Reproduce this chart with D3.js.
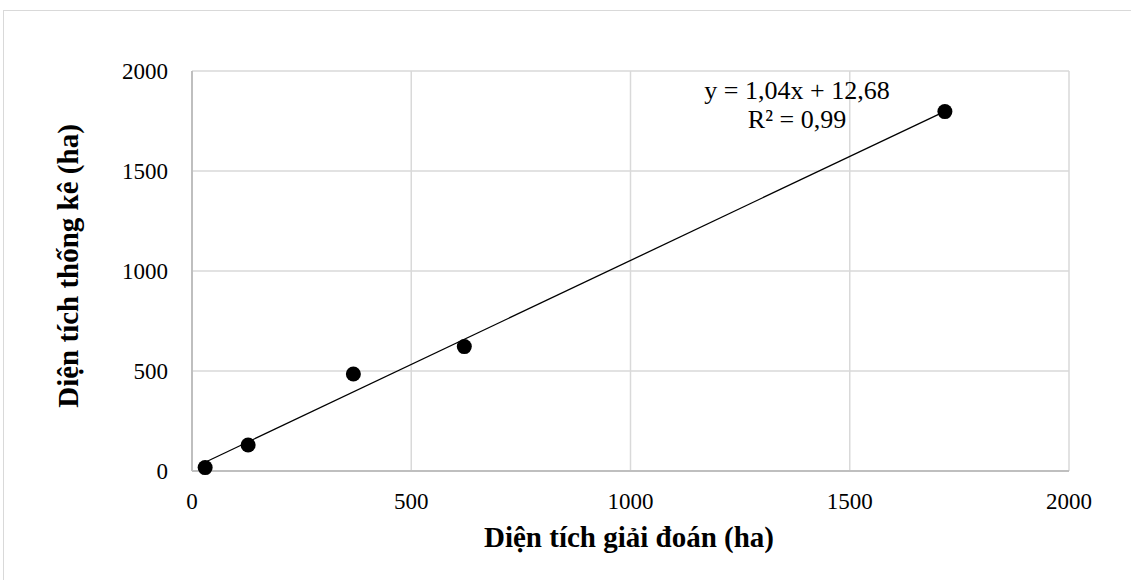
<!DOCTYPE html>
<html><head><meta charset="utf-8">
<script src="https://cdn.jsdelivr.net/npm/d3@7"></script>
<style>body{margin:0;background:#fff}svg{display:block}</style>
</head><body>
<svg id="c" width="1131" height="580"></svg>
<script>
const xValues = [30, 128, 368, 621, 1717];
const yValues = [17, 130, 485, 622, 1797];
const xTicks = [0, 500, 1000, 1500, 2000];
const yTicks = [0, 500, 1000, 1500, 2000];
const slope = 1.04, intercept = 12.68;
const eqLabel = "y = 1,04x + 12,68";
const r2Label = "R² = 0,99";
const xTitle = "Diện tích giải đoán (ha)";
const yTitle = "Diện tích thống kê (ha)";

const svg = d3.select("#c");
const font = "'Liberation Serif','Times New Roman',serif";
svg.append("rect").attr("x",3.5).attr("y",10.5).attr("width",1140).attr("height",600)
  .attr("fill","none").attr("stroke","#d9d9d9").attr("stroke-width",1);

const L=192, R=1069, T=71, B=471;
const x = d3.scaleLinear().domain([0,2000]).range([L,R]);
const y = d3.scaleLinear().domain([0,2000]).range([B,T]);

const g = svg.append("g");
g.selectAll(".vg").data(xTicks).join("line").attr("x1",d=>x(d)).attr("x2",d=>x(d))
  .attr("y1",T).attr("y2",B).attr("stroke","#d9d9d9").attr("stroke-width",1.5);
g.selectAll(".hg").data(yTicks).join("line").attr("y1",d=>y(d)).attr("y2",d=>y(d))
  .attr("x1",L).attr("x2",R).attr("stroke","#d9d9d9").attr("stroke-width",1.5);
g.append("line").attr("x1",L).attr("x2",R).attr("y1",B).attr("y2",B).attr("stroke","#bfbfbf").attr("stroke-width",2);
g.append("line").attr("x1",L).attr("x2",L).attr("y1",T).attr("y2",B).attr("stroke","#bfbfbf").attr("stroke-width",2);

g.selectAll(".xt").data(xTicks).join("text").attr("x",d=>x(d)).attr("y",B+38)
  .attr("text-anchor","middle").attr("font-family",font).attr("font-size",23).text(d=>d);
g.selectAll(".yt").data(yTicks).join("text").attr("x",168).attr("y",d=>y(d)+8)
  .attr("text-anchor","end").attr("font-family",font).attr("font-size",23).text(d=>d);

const x0 = d3.min(xValues), x1 = d3.max(xValues);
g.append("line").attr("x1",x(x0)).attr("y1",y(slope*x0+intercept))
  .attr("x2",x(x1)).attr("y2",y(slope*x1+intercept)).attr("stroke","#000").attr("stroke-width",1.3);

g.selectAll(".pt").data(xValues.map((v,i)=>[v,yValues[i]])).join("circle")
  .attr("cx",d=>x(d[0])).attr("cy",d=>y(d[1])).attr("r",7.5).attr("fill","#000");

g.append("text").attr("x",797).attr("y",99).attr("text-anchor","middle").attr("font-family",font).attr("font-size",26).text(eqLabel);
g.append("text").attr("x",797).attr("y",128).attr("text-anchor","middle").attr("font-family",font).attr("font-size",26).text(r2Label);

svg.append("text").attr("x",629).attr("y",547).attr("text-anchor","middle").attr("font-family",font)
  .attr("font-size",29).attr("font-weight","bold").text(xTitle);
svg.append("text").attr("transform","translate(78,266) rotate(-90)").attr("text-anchor","middle").attr("font-family",font)
  .attr("font-size",29).attr("font-weight","bold").text(yTitle);
</script>
</body></html>
